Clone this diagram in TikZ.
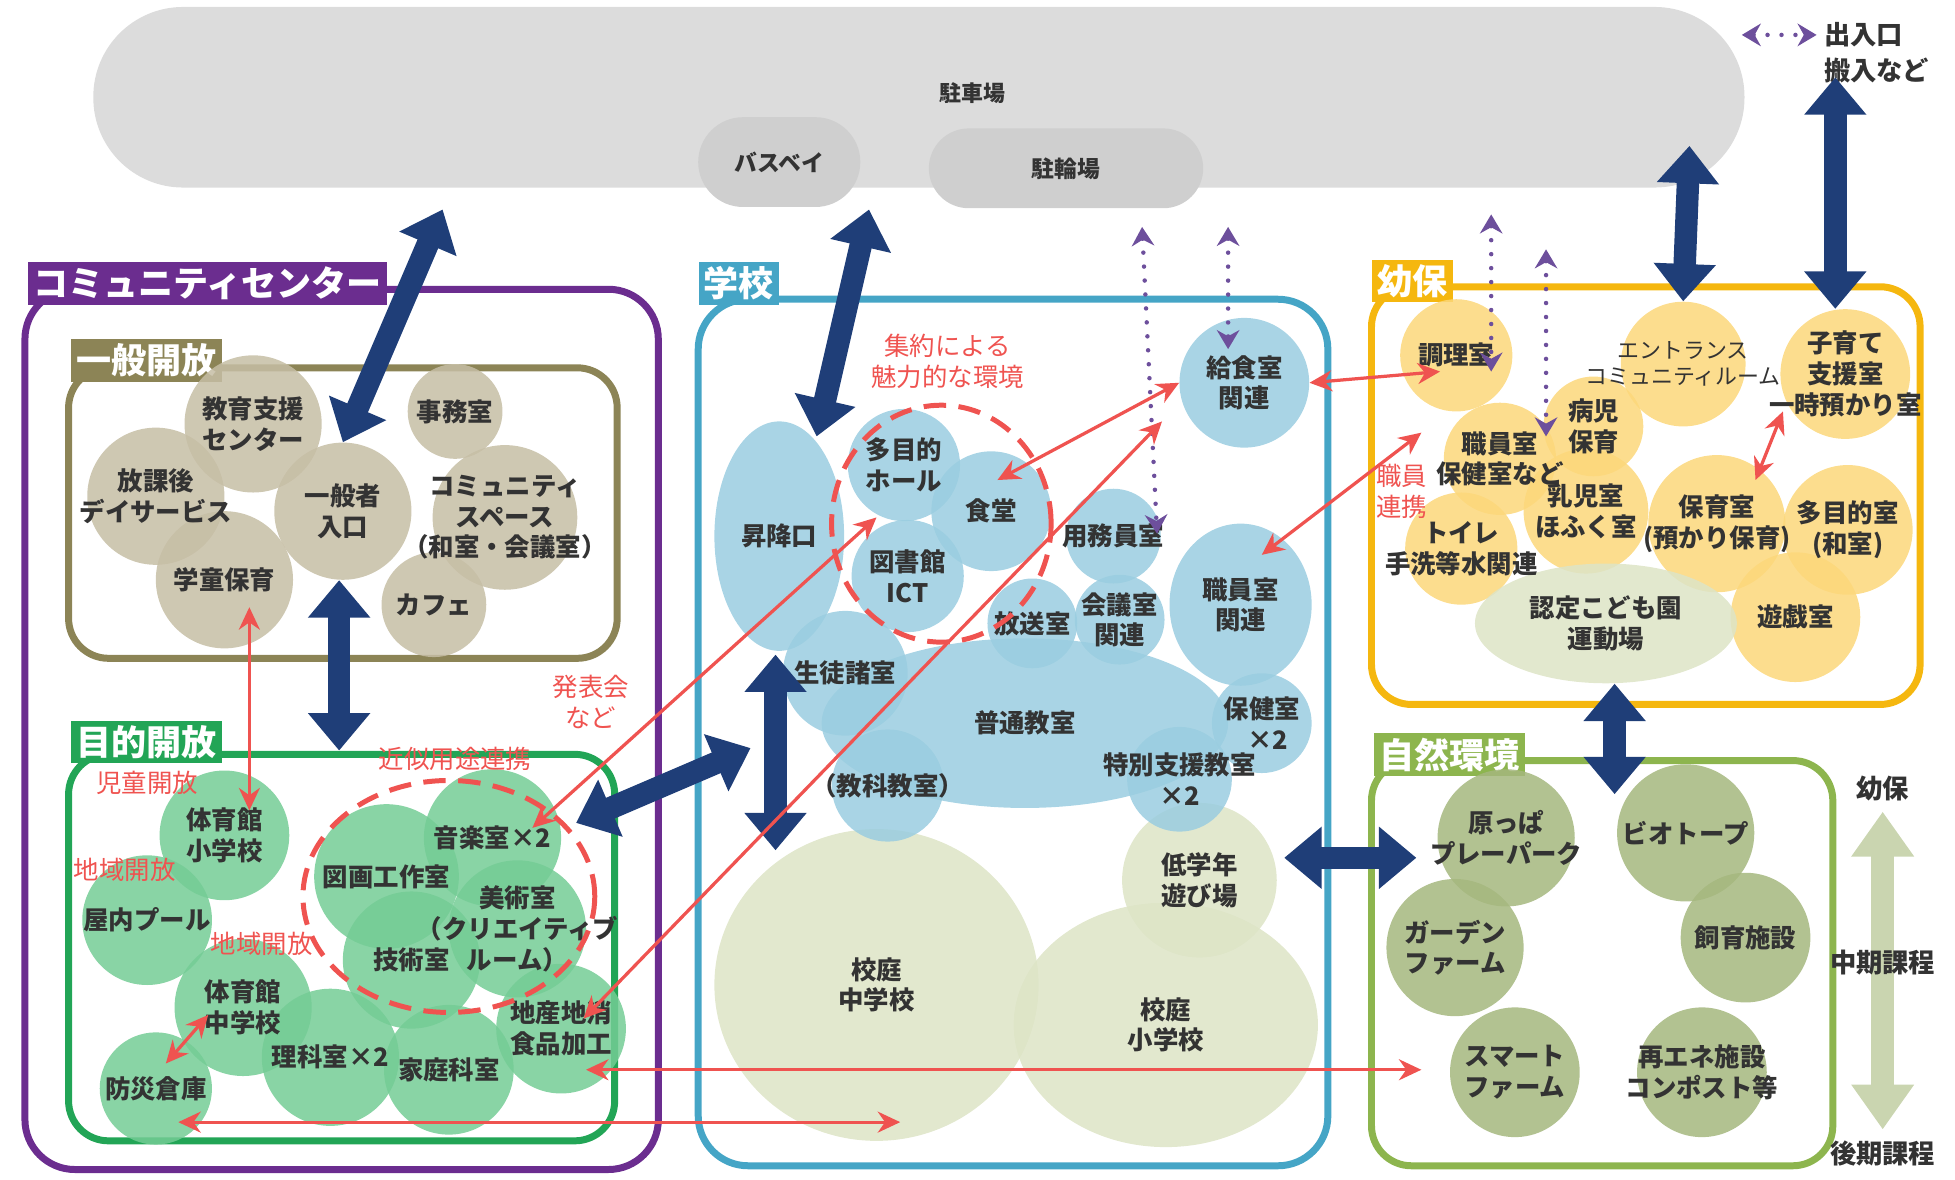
\documentclass[tikz,border=0pt]{standalone}
\usepackage{fontspec}
\setmainfont{Noto Sans CJK JP}
\usepackage{xcolor}
\usetikzlibrary{arrows.meta,calc,positioning,shapes.geometric}

\definecolor{ccpurple}{HTML}{6B2D8F}
\definecolor{olivef}{HTML}{8C8456}
\definecolor{tanc}{HTML}{C6BEA5}
\definecolor{greenf}{HTML}{22A556}
\definecolor{greenc}{HTML}{74CC95}
\definecolor{tealf}{HTML}{45A5C6}
\definecolor{bluec}{HTML}{9ACDE0}
\definecolor{yardc}{HTML}{DDE4C6}
\definecolor{orangef}{HTML}{F5B70F}
\definecolor{yellowc}{HTML}{FCD77A}
\definecolor{naturef}{HTML}{8DB54E}
\definecolor{naturec}{HTML}{A5B77E}
\definecolor{navy}{HTML}{1F3E78}
\definecolor{redc}{HTML}{EF5350}
\definecolor{dotpurple}{HTML}{6D4F9C}
\definecolor{coursec}{HTML}{CAD5B0}
\definecolor{parkgray}{HTML}{DCDCDC}
\definecolor{baygray}{HTML}{CFCFCF}
\definecolor{txtgray}{HTML}{333333}

\begin{document}
\begin{tikzpicture}[x=0.025cm,y=-0.025cm,
    roomtxt/.style={align=center, text=txtgray, inner sep=0pt,
      font=\fontsize{14.5}{17.5}\selectfont\bfseries},
    room/.style={circle, inner sep=0pt, fill opacity=0.85},
    oval/.style={ellipse, inner sep=0pt, fill opacity=0.85},
    tag/.style={anchor=north west, text=white, inner xsep=3pt, inner ysep=1pt, minimum height=0.85cm,
      font=\fontsize{20}{20}\selectfont\bfseries},
    zoneframe/.style={line width=0.14cm, rounded corners=0.8cm},
    note/.style={text=redc, align=center, font=\fontsize{14.5}{17.5}\selectfont},
    course/.style={text=txtgray, font=\fontsize{15}{18}\selectfont\bfseries},
    bigarr/.style={navy, line width=0.45cm,
      {Triangle[length=0.75cm,width=1.2cm]}-{Triangle[length=0.75cm,width=1.2cm]}},
    redarr/.style={redc, line width=0.065cm,
      {Stealth[length=0.45cm,width=0.42cm]}-{Stealth[length=0.45cm,width=0.42cm]}},
    dotarr/.style={dotpurple, line width=0.09cm, line cap=round, dash pattern=on 0pt off 0.28cm,
      {Stealth[length=0.38cm,width=0.45cm]}-{Stealth[length=0.38cm,width=0.45cm]}},
    ringdash/.style={redc, line width=0.1cm, dash pattern=on 0.45cm off 0.25cm}]
  \useasboundingbox (0,0) rectangle (1568,946);

  % Parking
  \node[fill=parkgray, rounded corners=1.8cm, minimum width=33.1cm, minimum height=3.62cm] (parking) at (737,78) {};
  \node[text=txtgray, font=\fontsize{12.5}{15}\selectfont\bfseries] (parkingtxt) at (780,75) {駐車場};
  \node[fill=baygray, rounded corners=0.9cm, minimum width=3.25cm, minimum height=1.8cm,
    text=txtgray, font=\fontsize{13}{15}\selectfont\bfseries] (busbay) at (625,130) {バスベイ};
  \node[fill=baygray, rounded corners=0.8cm, minimum width=5.5cm, minimum height=1.6cm,
    text=txtgray, font=\fontsize{13}{15}\selectfont\bfseries] (bike) at (855,135) {駐輪場};

  % Legend
  \coordinate (lg1) at (1397,28);
  \coordinate (lg2) at (1457,28);
  \draw[dotarr] (lg1) -- (lg2);
  \node[anchor=west, align=left, text=txtgray, font=\fontsize{15}{20.5}\selectfont\bfseries] (legend) at (1458,42) {出入口\\搬入など};

  % Zones
  \draw[zoneframe, ccpurple, rounded corners=1cm] (20,232) rectangle (528,938);
  \draw[zoneframe, olivef] (55,295) rectangle (495,528);
  \draw[zoneframe, greenf] (55,605) rectangle (493,915);
  \draw[zoneframe, tealf, rounded corners=1cm] (560,240) rectangle (1065,935);
  \draw[zoneframe, orangef] (1100,230) rectangle (1540,565);
  \draw[zoneframe, naturef] (1100,610) rectangle (1470,935);
  \node[tag, fill=ccpurple] (cctag) at (22,210) {コミュニティセンター};
  \node[tag, fill=olivef] (gentag) at (57,272) {一般開放};
  \node[tag, fill=greenf] (purtag) at (57,578) {目的開放};
  \node[tag, fill=tealf] (sctag) at (560,210) {学校};
  \node[tag, fill=orangef] (kgtag) at (1100,208) {幼保};
  \node[tag, fill=naturef] (nattag) at (1102,588) {自然環境};

  % Community center: general
  \node[room, fill=tanc, minimum size=2.75cm] (kyoiku) at (203,340) {};
  \node[room, fill=tanc, minimum size=1.9cm] (jimu) at (365,330) {};
  \node[room, fill=tanc, minimum size=2.75cm] (hokago) at (125,398) {};
  \node[room, fill=tanc, minimum size=2.75cm] (ippan) at (275,410) {};
  \node[room, fill=tanc, minimum size=2.9cm] (commu) at (405,415) {};
  \node[room, fill=tanc, minimum size=2.75cm] (gakudo) at (180,465) {};
  \node[room, fill=tanc, minimum size=2.1cm] (cafe) at (348,485) {};

  % Community center: purpose
  \node[room, fill=greenc, minimum size=2.6cm] (taisho) at (180,670) {};
  \node[room, fill=greenc, minimum size=2.6cm] (pool) at (118,738) {};
  \node[room, fill=greenc, minimum size=2.75cm] (ongaku) at (395,672) {};
  \node[room, fill=greenc, minimum size=2.9cm] (zuga) at (310,703) {};
  \node[room, fill=greenc, minimum size=2.75cm] (gijutsu) at (330,770) {};
  \node[room, fill=greenc, minimum size=2.75cm] (bijutsu) at (415,745) {};
  \node[room, fill=greenc, minimum size=2.75cm] (rika) at (265,848) {};
  \node[room, fill=greenc, minimum size=2.75cm] (taichu) at (195,808) {};
  \node[room, fill=greenc, minimum size=2.6cm] (katei) at (360,858) {};
  \node[room, fill=greenc, minimum size=2.6cm] (chisan) at (450,825) {};
  \node[room, fill=greenc, minimum size=2.25cm] (bosai) at (125,873) {};

  % School
  \node[oval, fill=yardc, minimum width=6.5cm, minimum height=6.25cm] (koteichu) at (703,790) {};
  \node[oval, fill=yardc, minimum width=6.1cm, minimum height=4.9cm] (koteisho) at (935,822) {};
  \node[room, fill=yardc, minimum size=3.1cm] (teigaku) at (962,706) {};
  \node[oval, fill=bluec, minimum width=2.6cm, minimum height=4.6cm] (shoko) at (625,430) {};
  \node[room, fill=bluec, minimum size=2.25cm] (tamoku) at (725,373) {};
  \node[room, fill=bluec, minimum size=2.4cm] (shokudo) at (795,410) {};
  \node[room, fill=bluec, minimum size=2.25cm] (tosho) at (728,462) {};
  \node[room, fill=bluec, minimum size=2.6cm] (kyushoku) at (998,307) {};
  \node[room, fill=bluec, minimum size=1.9cm] (yomuin) at (893,430) {};
  \node[oval, fill=bluec, minimum width=8.15cm, minimum height=3.4cm] (futsu) at (822,580) {};
  \node[room, fill=bluec, minimum size=2.5cm] (seito) at (678,540) {};
  \node[room, fill=bluec, minimum size=1.8cm] (hoso) at (828,500) {};
  \node[room, fill=bluec, minimum size=1.8cm] (kaigi) at (898,497) {};
  \node[oval, fill=bluec, minimum width=2.85cm, minimum height=3.25cm] (kshokuin) at (995,485) {};
  \node[room, fill=bluec, minimum size=2cm] (hoken) at (1012,580) {};
  \node[room, fill=bluec, minimum size=2.1cm] (tokubetsu) at (946,625) {};
  \node[room, fill=bluec, minimum size=2.25cm] (kyoka) at (712,630) {};

  % Kindergarten
  \node[room, fill=yellowc, minimum size=2.25cm] (chori) at (1168,285) {};
  \node[room, fill=yellowc, minimum size=2.5cm] (entrance) at (1350,292) {};
  \node[room, fill=yellowc, minimum size=2.6cm] (kosodate) at (1480,300) {};
  \node[room, fill=yellowc, minimum size=2cm] (byoji) at (1278,342) {};
  \node[room, fill=yellowc, minimum size=2.5cm] (nyuji) at (1272,410) {};
  \node[room, fill=yellowc, minimum size=2.25cm] (yshokuin) at (1203,368) {};
  \node[room, fill=yellowc, minimum size=2.25cm] (toilet) at (1172,440) {};
  \node[room, fill=yellowc, minimum size=2.75cm] (hoiku) at (1377,420) {};
  \node[room, fill=yellowc, minimum size=2.6cm] (tamokushitsu) at (1482,425) {};
  \node[room, fill=yellowc, minimum size=2.6cm] (yugi) at (1440,495) {};
  \node[oval, fill=yardc, minimum width=5.25cm, minimum height=2.4cm] (undojo) at (1288,500) {};

  % Nature
  \node[room, fill=naturec, minimum size=2.75cm] (hara) at (1208,672) {};
  \node[room, fill=naturec, minimum size=2.75cm] (biotope) at (1352,668) {};
  \node[room, fill=naturec, minimum size=2.75cm] (garden) at (1167,760) {};
  \node[room, fill=naturec, minimum size=2.6cm] (shiiku) at (1400,752) {};
  \node[room, fill=naturec, minimum size=2.6cm] (smart) at (1215,860) {};
  \node[room, fill=naturec, minimum size=2.6cm] (saiene) at (1365,860) {};

  % Room names
  \foreach \n/\t in {kyoiku/教育支援\\センター, jimu/事務室, hokago/放課後\\デイサービス, ippan/一般者\\入口,
      commu/コミュニティ\\スペース\\（和室・会議室）, gakudo/学童保育, cafe/カフェ,
      taisho/体育館\\小学校, pool/屋内プール, ongaku/音楽室×2, zuga/図画工作室, gijutsu/技術室,
      bijutsu/美術室\\（クリエイティブ\\ルーム）, rika/理科室×2, taichu/体育館\\中学校, katei/家庭科室,
      chisan/地産地消\\食品加工, bosai/防災倉庫,
      koteichu/校庭\\中学校, koteisho/校庭\\小学校, teigaku/低学年\\遊び場, shoko/昇降口,
      tamoku/多目的\\ホール, shokudo/食堂, tosho/図書館\\ICT, kyushoku/給食室\\関連, yomuin/用務員室,
      futsu/普通教室, seito/生徒諸室, hoso/放送室, kaigi/会議室\\関連, kshokuin/職員室\\関連,
      hoken/保健室\\\ \ ×2, tokubetsu/特別支援教室\\×2, kyoka/（教科教室）,
      chori/調理室, kosodate/子育て\\支援室\\一時預かり室, byoji/病児\\保育, nyuji/乳児室\\ほふく室,
      yshokuin/職員室\\保健室など, toilet/トイレ\\手洗等水関連, hoiku/保育室\\(預かり保育),
      tamokushitsu/多目的室\\(和室), yugi/遊戯室, undojo/認定こども園\\運動場,
      hara/原っぱ\\プレーパーク, biotope/ビオトープ, garden/ガーデン\\ファーム, shiiku/飼育施設,
      smart/スマート\\ファーム, saiene/再エネ施設\\コンポスト等}
    \node[roomtxt] (\n-t) at (\n) {\t};
  \node[roomtxt, font=\fontsize{12.5}{15}\selectfont] (entrance-t) at (entrance) {エントランス\\コミュニティルーム};

  % Courses
  \node[course] (ykb) at (1510,632) {幼保};
  \node[course] (kouki) at (1510,925) {後期課程};
  \draw[coursec, line width=0.45cm, {Triangle[length=0.9cm,width=1.2cm]}-{Triangle[length=0.9cm,width=1.2cm]},
    shorten <=0.1cm, shorten >=0.1cm] (ykb.south) -- (kouki.north);
  \node[course] (chuki) at (1510,772) {中期課程};

  % Dashed rings
  \draw[ringdash] (360,719) ellipse [x radius=2.925cm, y radius=2.325cm];
  \draw[ringdash] (755,420) ellipse [x radius=2.2cm, y radius=2.375cm];

  % Free ends of the connectors
  \coordinate (pk1) at (355,168);
  \coordinate (pk2) at (697,168);
  \coordinate (sc1) at (655,350);
  \coordinate (pur1) at (272,602);
  \coordinate (pur2) at (462,660);
  \coordinate (sc2) at (602,600);
  \coordinate (sc3) at (622,525);
  \coordinate (sc4) at (622,682);
  \coordinate (sc5) at (1030,688);
  \coordinate (nat1) at (1136,688);
  \coordinate (nat2) at (1295,637);
  \coordinate (pk3) at (1355,117);
  \coordinate (top1) at (1472,62);
  \coordinate (dt1) at (916,182);
  \coordinate (dt2) at (985,182);
  \coordinate (dt3) at (1196,172);
  \coordinate (dt4) at (1240,200);

  % Main routes
  \draw[bigarr] (pk1) -- (ippan.north);
  \draw[bigarr] (pk2) -- (sc1);
  \draw[bigarr] (ippan.south -| pur1) -- (pur1);
  \draw[bigarr] (pur2) -- (sc2);
  \draw[bigarr] (sc3) -- (sc4);
  \draw[bigarr] (sc5) -- (nat1);
  \draw[bigarr] (undojo.south -| nat2) -- (nat2);
  \draw[bigarr] (pk3) -- (entrance.north);
  \draw[bigarr] (top1) -- (kosodate.north -| top1);

  % Service routes
  \draw[dotarr] (dt1) -- ($(yomuin)+(35,-2)$);
  \draw[dotarr] (dt2) -- ($(kyushoku)+(-13,-27)$);
  \draw[dotarr] (dt3) -- ($(chori)+(28,13)$);
  \draw[dotarr] (dt4) -- ($(byoji)+(-38,8)$);

  % Links
  \draw[redarr] ($(gakudo)+(20,22)$) -- ($(taisho)+(20,-20)$);
  \draw[redarr] ($(shokudo)+(5,-25)$) -- (kyushoku.west);
  \draw[redarr] (kyushoku.east) -- ($(chori)+(-13,13)$);
  \draw[redarr] ($(kshokuin)+(17,-40)$) -- ($(yshokuin)+(-63,-21)$);
  \draw[redarr] ($(kosodate)+(-50,30)$) -- ($(hoiku)+(31,-35)$);
  \draw[redarr] ($(ongaku)+(32,-8)$) -- ($(tamoku)+(-22,42)$);
  \draw[redarr] ($(chisan)+(18,-8)$) -- ($(kyushoku)+(-66,31)$);
  \draw[redarr] ($(chisan)+(20,33)$) -- ($(smart)+(-75,-2)$);
  \draw[redarr] ($(bosai)+(18,27)$) -- ($(koteichu)+(19,110)$);
  \draw[redarr] ($(taichu)+(-28,6)$) -- ($(bosai)+(8,-20)$);

  % Notes
  \node[note] (shuyaku) at (760,290) {集約による\\魅力的な環境};
  \node[note] (happyo) at (474,563) {発表会\\など};
  \node[note] (kinji) at (365,609) {近似用途連携};
  \node[note] (jido) at (118,628) {児童開放};
  \node[note] (chiiki1) at (100,698) {地域開放};
  \node[note] (chiiki2) at (210,757) {地域開放};
  \node[note] (renkei) at (1124,394) {職員\\連携};
\end{tikzpicture}
\end{document}
